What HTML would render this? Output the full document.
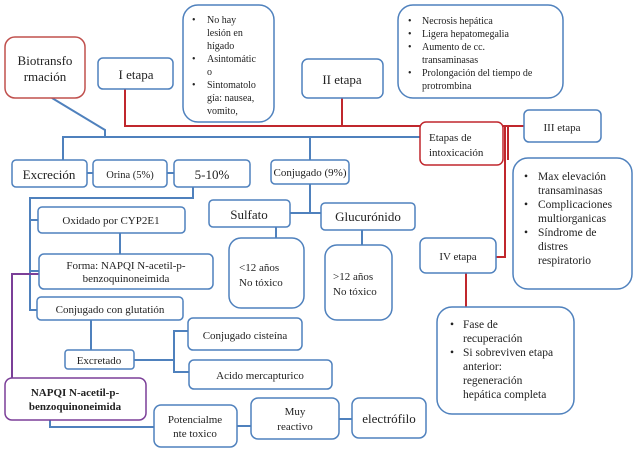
<!DOCTYPE html>
<html><head><meta charset="utf-8"><style>
body{margin:0;background:#fff}
svg text{font-family:"Liberation Serif",serif;fill:#222}
</style></head><body>
<svg width="638" height="451" viewBox="0 0 638 451" xmlns="http://www.w3.org/2000/svg">
<g fill="none" stroke="#4f81bd" stroke-width="2">
<polyline points="52,98 105,130 105,137"/>
<line x1="62" y1="137" x2="420" y2="137"/>
<line x1="63" y1="137" x2="63" y2="160"/>
<line x1="310" y1="137" x2="310" y2="160"/>
<line x1="87" y1="173" x2="93" y2="173"/>
<line x1="167" y1="173" x2="174" y2="173"/>
<polyline points="193,187 193,198 30,198 30,310 38,310"/>
<line x1="30" y1="220" x2="38" y2="220"/>
<line x1="30" y1="271" x2="39" y2="271"/>
<line x1="120" y1="233" x2="120" y2="254"/>
<line x1="91" y1="320" x2="91" y2="350"/>
<line x1="134" y1="360" x2="174" y2="360"/>
<polyline points="188,331 174,331 174,372 189,372"/>
<line x1="310" y1="184" x2="310" y2="213"/>
<line x1="290" y1="213" x2="321" y2="213"/>
<line x1="276" y1="227" x2="276" y2="238"/>
<line x1="362" y1="230" x2="362" y2="245"/>
<polyline points="50,420 50,427 154,427"/>
<line x1="237" y1="426" x2="251" y2="426"/>
<line x1="339" y1="419" x2="352" y2="419"/>
</g>
<g fill="none" stroke="#c0272d" stroke-width="2">
<polyline points="125,89 125,126 420,126"/>
<line x1="342" y1="98" x2="342" y2="126"/>
<line x1="503" y1="126" x2="524" y2="126"/>
<polyline points="505,126 505,257 496,257"/>
<line x1="508" y1="126" x2="508" y2="160"/>
<line x1="466" y1="273" x2="466" y2="307"/>
</g>
<polyline points="39,274 12,274 12,378" fill="none" stroke="#7b3f98" stroke-width="2"/>
<g fill="#fff" stroke="#4f81bd" stroke-width="1.5">
<rect x="98" y="58" width="75" height="31" rx="5"/>
<rect x="183" y="5" width="91" height="117" rx="15"/>
<rect x="302" y="59" width="81" height="39" rx="6"/>
<rect x="398" y="5" width="165" height="93" rx="15"/>
<rect x="524" y="110" width="77" height="32" rx="5"/>
<rect x="513" y="158" width="119" height="131" rx="15"/>
<rect x="420" y="238" width="76" height="35" rx="6"/>
<rect x="437" y="307" width="137" height="107" rx="15"/>
<rect x="12" y="160" width="75" height="27" rx="4"/>
<rect x="93" y="160" width="74" height="27" rx="4"/>
<rect x="174" y="160" width="76" height="27" rx="4"/>
<rect x="271" y="160" width="78" height="24" rx="4"/>
<rect x="38" y="207" width="147" height="26" rx="4"/>
<rect x="39" y="254" width="174" height="35" rx="5"/>
<rect x="37" y="297" width="146" height="23" rx="4"/>
<rect x="209" y="200" width="81" height="27" rx="4"/>
<rect x="321" y="203" width="94" height="27" rx="4"/>
<rect x="229" y="238" width="75" height="70" rx="12"/>
<rect x="325" y="245" width="67" height="75" rx="12"/>
<rect x="188" y="318" width="114" height="32" rx="5"/>
<rect x="65" y="350" width="69" height="19" rx="3"/>
<rect x="189" y="360" width="143" height="29" rx="5"/>
<rect x="154" y="405" width="83" height="42" rx="7"/>
<rect x="251" y="398" width="88" height="41" rx="7"/>
<rect x="352" y="398" width="74" height="40" rx="7"/>
</g>
<rect x="5" y="37" width="80" height="61" rx="10" fill="#fff" stroke="#c0504d" stroke-width="1.5"/>
<rect x="420" y="122" width="83" height="43" rx="6" fill="#fff" stroke="#c0272d" stroke-width="1.5"/>
<rect x="5" y="378" width="141" height="42" rx="7" fill="#fff" stroke="#7b3f98" stroke-width="1.5"/>
<g font-size="13" text-anchor="middle">
<text x="45" y="65">Biotransfo</text><text x="45" y="81">rmación</text>
<text x="136" y="79">I etapa</text>
<text x="342" y="84">II etapa</text>
<text x="49" y="179">Excreción</text>
<text x="212" y="179">5-10%</text>
<text x="249" y="219">Sulfato</text>
<text x="368" y="221">Glucurónido</text>
<text x="389" y="423">electrófilo</text>
</g>
<g font-size="11" text-anchor="middle">
<text x="130" y="178" font-size="10.5">Orina (5%)</text>
<text x="310" y="176">Conjugado (9%)</text>
<text x="562" y="131">III etapa</text>
<text x="458" y="260">IV etapa</text>
<text x="111" y="224">Oxidado por CYP2E1</text>
<text x="126" y="269">Forma: NAPQI N-acetil-p-</text>
<text x="126" y="282">benzoquinoneimida</text>
<text x="110" y="313">Conjugado con glutatión</text>
<text x="99" y="364">Excretado</text>
<text x="245" y="339">Conjugado cisteína</text>
<text x="260" y="379">Acido mercapturico</text>
<text x="195" y="423">Potencialme</text><text x="195" y="437">nte toxico</text>
<text x="295" y="415">Muy</text><text x="295" y="430">reactivo</text>
<text x="75" y="396" font-weight="bold">NAPQI N-acetil-p-</text>
<text x="75" y="410" font-weight="bold">benzoquinoneimida</text>
</g>
<g font-size="11">
<text x="239" y="271">&lt;12 años</text><text x="239" y="286">No tóxico</text>
<text x="333" y="280">&gt;12 años</text><text x="333" y="295">No tóxico</text>
<text x="429" y="141">Etapas de</text><text x="429" y="156">intoxicación</text>
</g>
<g font-size="10">
<text x="192" y="23">•</text><text x="207" y="23">No hay</text>
<text x="207" y="36">lesión en</text><text x="207" y="49">hígado</text>
<text x="192" y="62">•</text><text x="207" y="62">Asintomátic</text>
<text x="207" y="75">o</text>
<text x="192" y="88">•</text><text x="207" y="88">Sintomatolo</text>
<text x="207" y="101">gía: nausea,</text><text x="207" y="114">vomito,</text>
<text x="408" y="24">•</text><text x="422" y="24">Necrosis hepática</text>
<text x="408" y="37">•</text><text x="422" y="37">Ligera hepatomegalia</text>
<text x="408" y="50">•</text><text x="422" y="50">Aumento de cc.</text>
<text x="422" y="63">transaminasas</text>
<text x="408" y="76">•</text><text x="422" y="76">Prolongación del tiempo de</text>
<text x="422" y="89">protrombina</text>
</g>
<g font-size="11.5">
<text x="524" y="180">•</text><text x="538" y="180">Max elevación</text>
<text x="538" y="194">transaminasas</text>
<text x="524" y="208">•</text><text x="538" y="208">Complicaciones</text>
<text x="538" y="222">multiorganicas</text>
<text x="524" y="236">•</text><text x="538" y="236">Síndrome de</text>
<text x="538" y="250">distres</text><text x="538" y="264">respiratorio</text>
<text x="450" y="328">•</text><text x="463" y="328">Fase de</text>
<text x="463" y="342">recuperación</text>
<text x="450" y="356">•</text><text x="463" y="356">Si sobreviven etapa</text>
<text x="463" y="370">anterior:</text>
<text x="463" y="384">regeneración</text>
<text x="463" y="398">hepática completa</text>
</g>
</svg>
</body></html>
